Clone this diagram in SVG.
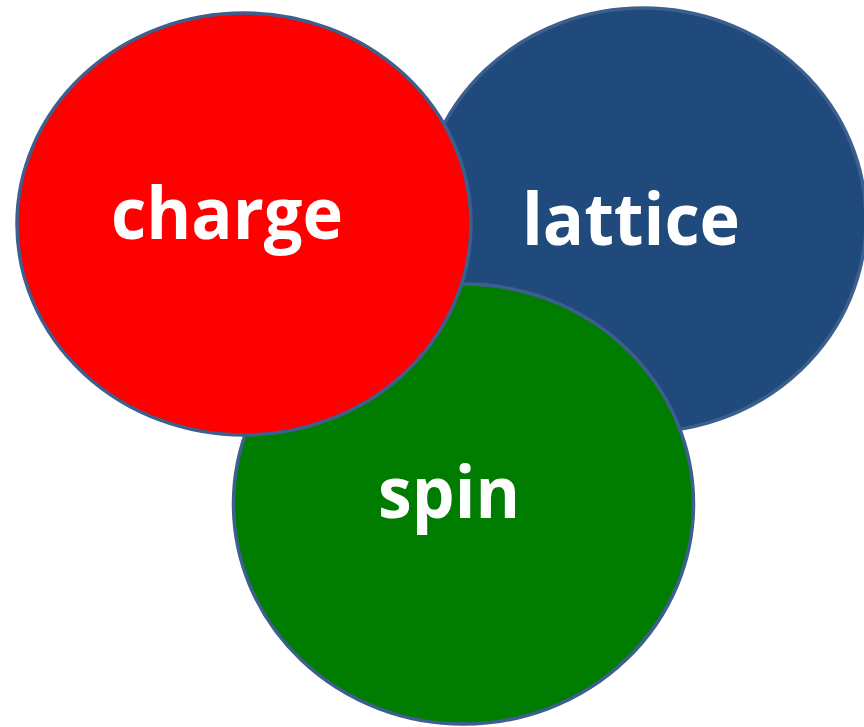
<svg xmlns="http://www.w3.org/2000/svg" width="864" height="727" viewBox="0 0 864 727">
<style>
.c{stroke:#3c5f8e;stroke-width:3.5}
.t{font-family:"Open Sans","Liberation Sans",sans-serif;font-weight:bold;font-size:72px;fill:#ffffff;text-anchor:middle}
</style>
<rect width="864" height="727" fill="#ffffff"/>
<g id="lattice">
<ellipse class="c" cx="643" cy="220" rx="223" ry="212" fill="#214a7c"/>
<text class="t" x="631" y="245" textLength="218" lengthAdjust="spacingAndGlyphs">lattice</text>
</g>
<g id="spin">
<ellipse class="c" cx="463.5" cy="504" rx="230" ry="220" fill="#007c00"/>
<text class="t" x="449" y="518" textLength="142" lengthAdjust="spacingAndGlyphs">spin</text>
</g>
<g id="charge">
<ellipse class="c" cx="244" cy="224" rx="227" ry="211" fill="#ff0000"/>
<text class="t" x="227" y="239" textLength="232" lengthAdjust="spacingAndGlyphs">charge</text>
</g>
<g id="connectors"/>
</svg>
